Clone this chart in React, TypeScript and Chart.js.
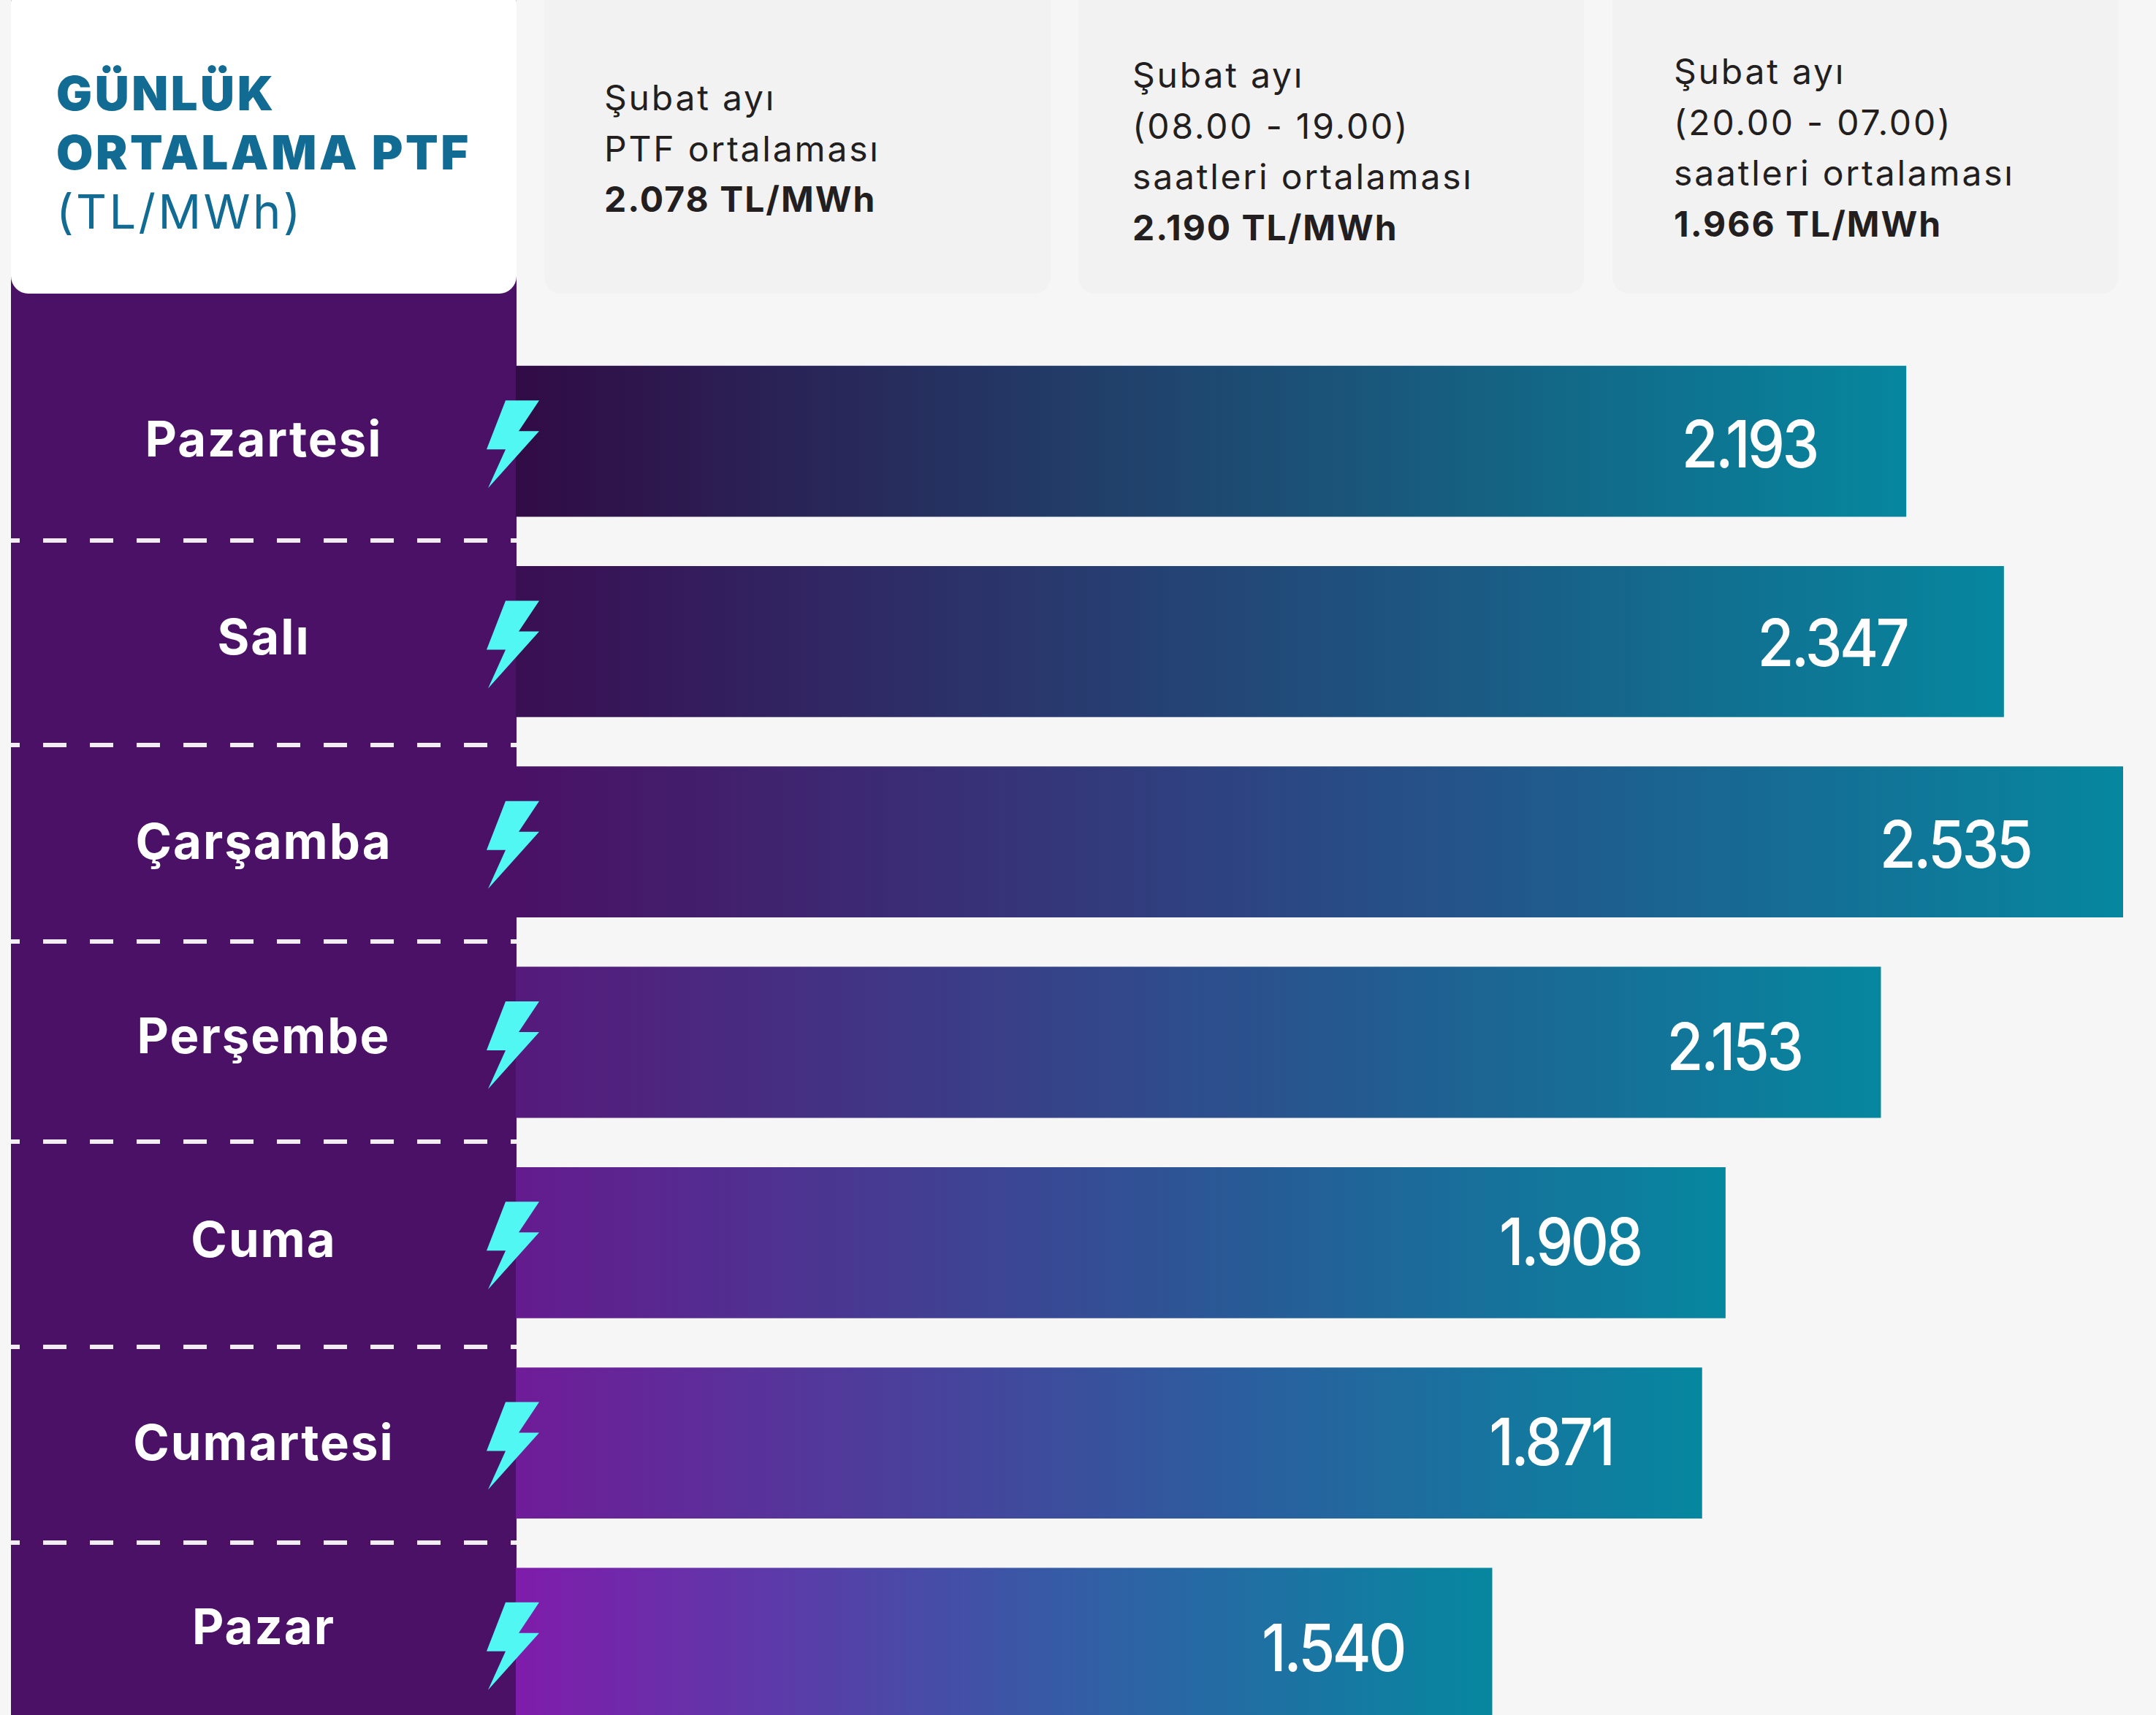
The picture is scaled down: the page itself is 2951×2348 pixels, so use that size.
import React, { useEffect, useRef } from "react";
import { Chart, registerables } from "chart.js";

Chart.register(...registerables);

const days = ["Pazartesi", "Salı", "Çarşamba", "Perşembe", "Cuma", "Cumartesi", "Pazar"];
const values = [2193, 2347, 2535, 2153, 1908, 1871, 1540];
const valueTexts = ["2.193", "2.347", "2.535", "2.153", "1.908", "1.871", "1.540"];

const leftColors = ["#310b45", "#3a0e53", "#4a1166", "#561a7c", "#641b8e", "#6f1c98", "#7f1cab"];
const midColors = ["#1a5579", "#1d5580", "#23558a", "#25588f", "#285a96", "#2c5d9e", "#3060a5"];
const endColor = "#06879f";

const labelNudges = [1, -3, 3, -5, 0, 3, -19];
const valueInsets = [215, 235, 230, 201, 213, 207, 218];
const valueNudges = [9, 7, 8, 11, 4, 3, 11];
const dashRows = [740, 1020, 1289, 1563, 1844, 2112];

const FONT = "Inter, 'Noto Sans', sans-serif";

const panelPlugin = {
  id: "panel",
  beforeDraw(chart: any) {
    const ctx = chart.ctx;
    ctx.save();
    ctx.fillStyle = "#4a1166";
    ctx.fillRect(15, 0, 692, chart.height);
    ctx.strokeStyle = "#f2eef4";
    ctx.lineWidth = 6;
    ctx.setLineDash([32, 32]);
    ctx.lineDashOffset = 20;
    dashRows.forEach((y) => {
      ctx.beginPath();
      ctx.moveTo(15, y);
      ctx.lineTo(707, y);
      ctx.stroke();
    });
    ctx.restore();
    ctx.letterSpacing = "2px";
    const scale = chart.scales.y;
    scale.getLabelItems(chart.chartArea).forEach((item: any, i: number) => {
      item.options.translation = [361, scale.getPixelForTick(i) + labelNudges[i]];
      item.options.textAlign = "center";
    });
  },
  beforeDatasetsDraw(chart: any) {
    chart.ctx.letterSpacing = "0px";
  },
};

const boltPoints: [number, number][] = [
  [26, -60], [72, -60], [44, -18], [72, -18], [2, 60], [26, 7], [0, 7],
];

const overlayPlugin = {
  id: "overlay",
  afterDatasetsDraw(chart: any) {
    const ctx = chart.ctx;
    const bars = chart.getDatasetMeta(0).data;
    ctx.save();
    bars.forEach((bar: any, i: number) => {
      const cy = bar.y + 4;
      ctx.fillStyle = "#50f7f3";
      ctx.beginPath();
      boltPoints.forEach(([dx, dy], k) => {
        if (k === 0) ctx.moveTo(666 + dx, cy + dy);
        else ctx.lineTo(666 + dx, cy + dy);
      });
      ctx.closePath();
      ctx.fill();

      ctx.save();
      ctx.translate(bar.x - valueInsets[i], bar.y + valueNudges[i]);
      ctx.scale(0.9, 1);
      ctx.fillStyle = "#ffffff";
      ctx.font = `500 90px ${FONT}`;
      ctx.textAlign = "center";
      ctx.textBaseline = "middle";
      (ctx as any).letterSpacing = "-4px";
      ctx.fillText(valueTexts[i], 0, 0);
      ctx.restore();
    });
    ctx.restore();
  },
};

const cardBase: React.CSSProperties = {
  position: "absolute",
  top: -20,
  height: 422,
  background: "#f2f2f2",
  borderRadius: 22,
  color: "#231f20",
  fontFamily: FONT,
  fontSize: 48,
  lineHeight: "69.5px",
  letterSpacing: "2.8px",
  boxSizing: "border-box",
};

const cards = [
  { left: 745, width: 693, textLeft: 82, textTop: 119, lines: ["Şubat ayı", "PTF ortalaması"], bold: "2.078 TL/MWh" },
  { left: 1476, width: 692, textLeft: 74, textTop: 88, lines: ["Şubat ayı", "(08.00 - 19.00)", "saatleri ortalaması"], bold: "2.190 TL/MWh" },
  { left: 2207, width: 692, textLeft: 84, textTop: 83, lines: ["Şubat ayı", "(20.00 - 07.00)", "saatleri ortalaması"], bold: "1.966 TL/MWh" },
];

export default function App() {
  const ref = useRef<HTMLCanvasElement>(null);

  useEffect(() => {
    document.body.style.margin = "0";
    document.body.style.background = "#f6f6f6";
    const chart = new Chart(ref.current!, {
      type: "bar",
      data: {
        labels: days,
        datasets: [
          {
            data: values,
            barPercentage: 0.754,
            categoryPercentage: 1,
            backgroundColor: (c: any) => {
              const area = c.chart.chartArea;
              if (!area) return endColor;
              const i = c.dataIndex;
              const right = c.chart.scales.x.getPixelForValue(values[i]);
              const g = c.chart.ctx.createLinearGradient(area.left, 0, right, 0);
              g.addColorStop(0, leftColors[i]);
              g.addColorStop(0.6, midColors[i]);
              g.addColorStop(1, endColor);
              return g;
            },
          },
        ],
      },
      options: {
        indexAxis: "y",
        responsive: false,
        animation: false,
        layout: { padding: { top: 467, right: 45, left: 0, bottom: 0 } },
        plugins: { legend: { display: false }, tooltip: { enabled: false } },
        scales: {
          x: { display: false, min: 0, max: 2535, grid: { display: false } },
          y: {
            afterFit: (s: any) => { s.width = 706; s.paddingTop = 0; s.paddingBottom = 0; },
            border: { display: false },
            grid: { display: false },
            ticks: {
              color: "#ffffff",
              padding: 0,
              font: { family: FONT, size: 67, weight: "700" },
            },
          },
        },
      } as any,
      plugins: [panelPlugin, overlayPlugin],
    });
    return () => chart.destroy();
  }, []);

  return (
    <div style={{ position: "relative", width: 2951, height: 2348, overflow: "hidden", background: "#f6f6f6" }}>
      <canvas ref={ref} width={2951} height={2387} style={{ position: "absolute", left: 0, top: 0 }} />
      <div
        style={{
          position: "absolute", left: 15, top: -20, width: 692, height: 422,
          background: "#ffffff", borderRadius: 24, color: "#126b92",
          fontFamily: FONT, fontSize: 65, lineHeight: "81px",
        }}
      >
        <div style={{ position: "absolute", left: 62, top: 107, whiteSpace: "nowrap" }}>
          <div style={{ fontWeight: 900, letterSpacing: "3.6px" }}>GÜNLÜK</div>
          <div style={{ fontWeight: 900, letterSpacing: "3.6px" }}>ORTALAMA PTF</div>
          <div style={{ fontWeight: 400, letterSpacing: "3.4px" }}>(TL/MWh)</div>
        </div>
      </div>
      {cards.map((card) => (
        <div key={card.left} style={{ ...cardBase, left: card.left, width: card.width }}>
          <div style={{ position: "absolute", left: card.textLeft, top: card.textTop, whiteSpace: "nowrap" }}>
            {card.lines.map((l) => <div key={l}>{l}</div>)}
            <div style={{ fontWeight: 700, letterSpacing: "2px" }}>{card.bold}</div>
          </div>
        </div>
      ))}
    </div>
  );
}
